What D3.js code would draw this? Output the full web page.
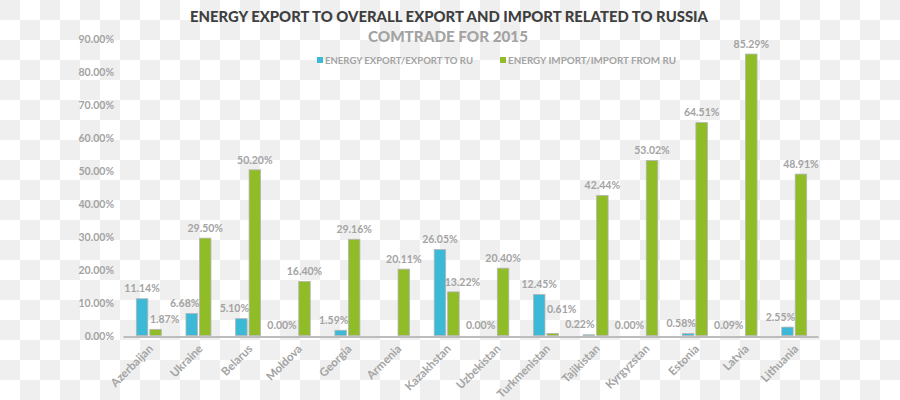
<!DOCTYPE html>
<html>
<head>
<meta charset="utf-8">
<script src="https://cdn.jsdelivr.net/npm/d3@7"></script>
<style>
  html, body { margin: 0; padding: 0; }
  body {
    width: 900px; height: 400px; overflow: hidden;
    background-color: #ffffff;
    background-image:
      linear-gradient(45deg, #efefef 25%, transparent 25%, transparent 75%, #efefef 75%),
      linear-gradient(45deg, #efefef 25%, transparent 25%, transparent 75%, #efefef 75%);
    background-size: 40px 40px;
    background-position: 20px 0, 0 20px;
  }
  svg { display: block; font-family: "Lato", "Open Sans", sans-serif; }
</style>
</head>
<body>
<svg id="chart" width="900" height="400"></svg>
<script>
const categories = ["Azerbaijan","Ukraine","Belarus","Moldova","Georgia","Armenia","Kazakhstan","Uzbekistan","Turkmenistan","Tajikistan","Kyrgyzstan","Estonia","Latvia","Lithuania"];
const energyExport = [11.14, 6.68, 5.10, 0.00, 1.59, null, 26.05, 0.00, 12.45, 0.22, 0.00, 0.58, 0.09, 2.55];
const energyImport = [1.87, 29.50, 50.20, 16.40, 29.16, 20.11, 13.22, 20.40, 0.61, 42.44, 53.02, 64.51, 85.29, 48.91];
const yTicks = [0, 10, 20, 30, 40, 50, 60, 70, 80, 90];
const seriesNames = ["ENERGY EXPORT/EXPORT TO RU", "ENERGY IMPORT/IMPORT FROM RU"];
const titleText = "ENERGY EXPORT TO OVERALL EXPORT AND IMPORT RELATED TO RUSSIA";
const subtitleText = "COMTRADE FOR 2015";

const colors = ["#3cb9d6", "#8fbc27"];
const svg = d3.select("#chart");

const x = d3.scaleBand().domain(categories).range([123, 818]);
const y = d3.scaleLinear().domain([0, 90]).range([335.5, 38.5]);
const barW = 11.5, gap = 2;

// Title
svg.append("text").attr("x", 449).attr("y", 22).attr("text-anchor", "middle")
  .attr("font-size", 14.5).attr("font-weight", 900).attr("fill", "#3f3f3f")
  .attr("textLength", 518).attr("lengthAdjust", "spacingAndGlyphs")
  .text(titleText);
svg.append("text").attr("x", 448).attr("y", 41.5).attr("text-anchor", "middle")
  .attr("font-size", 15).attr("font-weight", 900).attr("fill", "#a3a3a3")
  .attr("textLength", 160).attr("lengthAdjust", "spacingAndGlyphs")
  .text(subtitleText);

// Legend
const legend = [{x: 317, w: 148}, {x: 500, w: 168}];
seriesNames.forEach((name, i) => {
  svg.append("rect").attr("x", legend[i].x).attr("y", 57).attr("width", 6).attr("height", 6).attr("fill", colors[i]);
  svg.append("text").attr("x", legend[i].x + 8).attr("y", 63.5)
    .attr("font-size", 9.5).attr("font-weight", 700).attr("fill", "#a3a3a3")
    .attr("textLength", legend[i].w).attr("lengthAdjust", "spacingAndGlyphs")
    .text(name);
});

// Y axis
const yAxis = d3.axisLeft(y).tickValues(yTicks).tickSize(0).tickPadding(0)
  .tickFormat(d => d3.format(".2f")(d) + "%");
const gy = svg.append("g").attr("transform", "translate(114,0)").call(yAxis);
gy.select(".domain").remove();
gy.selectAll("text").attr("font-size", 10.5).attr("font-weight", 700).attr("fill", "#a3a3a3")
  .attr("font-family", "Lato, sans-serif").attr("dy", "0.35em");

// Bars
const rows = categories.map((c, i) => ({c, v: [energyExport[i], energyImport[i]]}));
rows.forEach(r => {
  const cx = x(r.c) + x.bandwidth() / 2 + 1;
  r.v.forEach((v, s) => {
    if (v === null) return;
    const bx = s === 0 ? cx - gap / 2 - barW : cx + gap / 2;
    const h = y(0) - y(v);
    if (h > 0.3) {
      svg.append("rect").attr("x", bx).attr("y", y(v)).attr("width", barW).attr("height", h)
        .attr("fill", colors[s]).attr("stroke", "#b5b5b5").attr("stroke-width", 0.8);
    }
  });
});

// X axis
const xAxis = d3.axisBottom(x).tickSize(0).tickPadding(0);
const gx = svg.append("g").attr("transform", `translate(0,${y(0) + 1})`).call(xAxis);
gx.select(".domain").attr("stroke", "#bdbdbd").attr("stroke-width", 2);
gx.selectAll(".tick text")
  .attr("font-size", 11.5).attr("font-weight", 700).attr("fill", "#a3a3a3")
  .attr("font-family", "Lato, sans-serif")
  .attr("text-anchor", "end").attr("dy", "0")
  .attr("transform", "translate(6,13) rotate(-45)");

// Value labels
const fmt = v => d3.format(".2f")(v) + "%";
const labelAttrs = sel => sel.attr("dy", "0.35em").attr("text-anchor", "middle")
  .attr("font-size", 10.5).attr("font-weight", 700).attr("fill", "#a3a3a3");
rows.forEach(r => {
  const cx = x(r.c) + x.bandwidth() / 2 + 1;
  const [b, g] = r.v;
  const blueFirst = b !== null && b > g;
  if (b !== null) {
    const bcx = cx - gap / 2 - barW / 2;
    const dx = blueFirst ? 0 : (b < 0.5 ? -9 : -7);
    svg.append("text").attr("x", bcx + dx).attr("y", y(b) - 10).call(labelAttrs).text(fmt(b));
  }
  const gcx = cx + gap / 2 + barW / 2;
  const gdx = blueFirst ? 9 : 0;
  // tiny green bars beside a taller blue bar get lifted to clear the next label
  const gdy = (blueFirst && g < 1) ? -24 : -10;
  svg.append("text").attr("x", gcx + gdx).attr("y", y(g) + gdy).call(labelAttrs).text(fmt(g));
});
</script>
</body>
</html>
